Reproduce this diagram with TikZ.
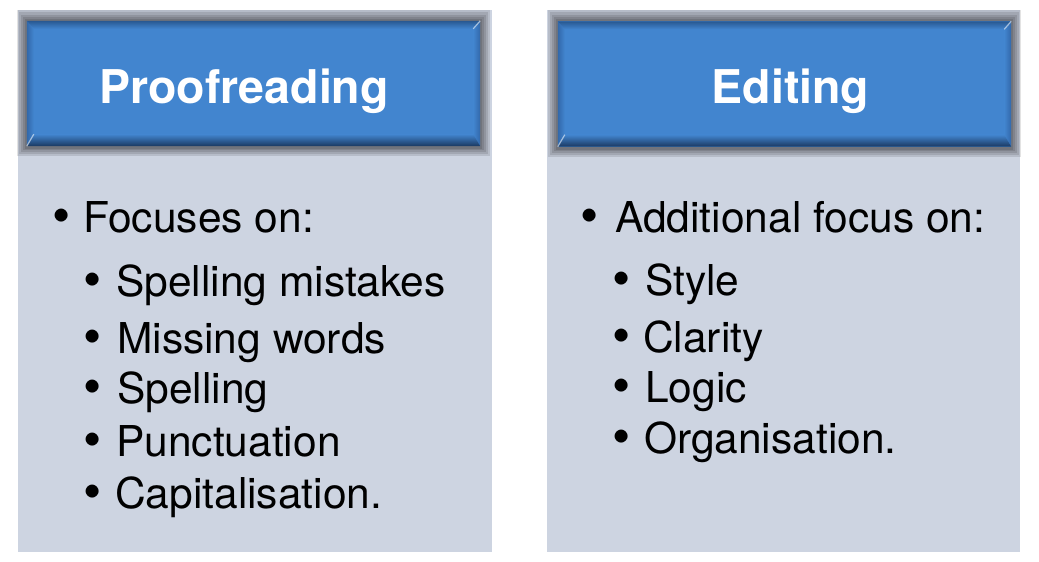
\documentclass[tikz,border=0pt]{standalone}
\usepackage{fontspec}
\setmainfont{TeX Gyre Heros}
\usetikzlibrary{calc}
\definecolor{panelgray}{RGB}{205,212,225}
\definecolor{headblue}{RGB}{66,133,207}
\definecolor{bevtop}{RGB}{40,88,145}
\definecolor{bevbot}{RGB}{26,56,96}
\definecolor{bevside}{RGB}{50,104,170}

\begin{document}
\begin{tikzpicture}[
    x=1pt, y=-1pt,
    panel/.style={rectangle, fill=panelgray, minimum width=474pt, minimum height=542pt, inner sep=0pt},
    headbox/.style={rectangle, minimum width=453pt, minimum height=125pt, inner sep=0pt},
    glow/.style={fill=black, fill opacity=0.11},
    shine/.style={white, opacity=0.55, line width=1.2pt},
    headtext/.style={font=\fontsize{46.5}{54}\selectfont\bfseries, text=white, inner sep=0pt, anchor=base},
    itemtext/.style={font=\fontsize{42.5}{50}\selectfont, inner sep=0pt, anchor=base west},
    bulletmark/.style={font=\fontsize{52}{60}\selectfont, inner sep=0pt, anchor=base}
]
    \fill[white] (0,0) rectangle (1039,562);
    \useasboundingbox (0,0) rectangle (1039,562);

    % Panels
    \node (proofpanel) [panel] at (255,281) {};
    \node (editpanel) [panel, minimum width=473pt] at (783.5,281) {};

    % Header boxes
    \node (proofbox) [headbox] at (253.5,83.5) {};
    \node (editbox) [headbox] at (784.5,84) {};

    % Shadows
    \fill[glow] ($(proofbox.north west)+(-10,-11)$) rectangle ($(proofbox.south east)+(10,10)$);
    \fill[glow] ($(proofbox.north west)+(-8,-9)$) rectangle ($(proofbox.south east)+(8,8)$);
    \fill[glow] ($(proofbox.north west)+(-6,-6)$) rectangle ($(proofbox.south east)+(6,6)$);
    \fill[glow] ($(proofbox.north west)+(-4,-4)$) rectangle ($(proofbox.south east)+(4,4)$);
    \fill[glow] ($(proofbox.north west)+(-2,-2)$) rectangle ($(proofbox.south east)+(2,3)$);
    \fill[glow] ($(editbox.north west)+(-10,-11)$) rectangle ($(editbox.south east)+(10,10)$);
    \fill[glow] ($(editbox.north west)+(-8,-9)$) rectangle ($(editbox.south east)+(8,8)$);
    \fill[glow] ($(editbox.north west)+(-6,-6)$) rectangle ($(editbox.south east)+(6,6)$);
    \fill[glow] ($(editbox.north west)+(-4,-4)$) rectangle ($(editbox.south east)+(4,4)$);
    \fill[glow] ($(editbox.north west)+(-2,-2)$) rectangle ($(editbox.south east)+(2,3)$);

    % Bevelled blue faces
    \fill[headblue] (proofbox.north west) rectangle (proofbox.south east);
    \shade[left color=bevside, right color=headblue] (proofbox.north west) -- ($(proofbox.north west)+(7,8)$) -- ($(proofbox.south west)+(7,-12)$) -- (proofbox.south west) -- cycle;
    \shade[left color=headblue, right color=bevside] (proofbox.north east) -- ($(proofbox.north east)+(-7,8)$) -- ($(proofbox.south east)+(-7,-12)$) -- (proofbox.south east) -- cycle;
    \shade[top color=bevtop, bottom color=headblue] (proofbox.north west) -- (proofbox.north east) -- ($(proofbox.north east)+(-7,8)$) -- ($(proofbox.north west)+(7,8)$) -- cycle;
    \shade[top color=headblue, bottom color=bevbot] (proofbox.south west) -- (proofbox.south east) -- ($(proofbox.south east)+(-7,-12)$) -- ($(proofbox.south west)+(7,-12)$) -- cycle;
    \draw[shine] (proofbox.south west) -- ($(proofbox.south west)+(7,-12)$);
    \draw[shine] (proofbox.north east) -- ($(proofbox.north east)+(-7,8)$);

    \fill[headblue] (editbox.north west) rectangle (editbox.south east);
    \shade[left color=bevside, right color=headblue] (editbox.north west) -- ($(editbox.north west)+(7,8)$) -- ($(editbox.south west)+(7,-12)$) -- (editbox.south west) -- cycle;
    \shade[left color=headblue, right color=bevside] (editbox.north east) -- ($(editbox.north east)+(-7,8)$) -- ($(editbox.south east)+(-7,-12)$) -- (editbox.south east) -- cycle;
    \shade[top color=bevtop, bottom color=headblue] (editbox.north west) -- (editbox.north east) -- ($(editbox.north east)+(-7,8)$) -- ($(editbox.north west)+(7,8)$) -- cycle;
    \shade[top color=headblue, bottom color=bevbot] (editbox.south west) -- (editbox.south east) -- ($(editbox.south east)+(-7,-12)$) -- ($(editbox.south west)+(7,-12)$) -- cycle;
    \draw[shine] (editbox.south west) -- ($(editbox.south west)+(7,-12)$);
    \draw[shine] (editbox.north east) -- ($(editbox.north east)+(-7,8)$);

    % Titles
    \node (prooftitle) [headtext] at (244,103) {Proofreading};
    \node (edittitle) [headtext] at (790.5,103) {Editing};

    % Proofreading items
    \node (pb0) [bulletmark] at (62,233) {\textbullet};
    \node (pi0) [itemtext] at (83,232) {Focuses on:};
    \node (pb1) [bulletmark] at (93,297) {\textbullet};
    \node (pi1) [itemtext] at (116,296) {Spelling mistakes};
    \node (pb2) [bulletmark] at (93,354) {\textbullet};
    \node (pi2) [itemtext] at (117,353) {Missing words};
    \node (pb3) [bulletmark] at (93,404) {\textbullet};
    \node (pi3) [itemtext] at (117,403) {Spelling};
    \node (pb4) [bulletmark] at (93,457) {\textbullet};
    \node (pi4) [itemtext] at (116,456) {Punctuation};
    \node (pb5) [bulletmark] at (93,509) {\textbullet};
    \node (pi5) [itemtext] at (115,508) {Capitalisation.};

    % Editing items
    \node (eb0) [bulletmark] at (590,233) {\textbullet};
    \node (ei0) [itemtext] at (615,232) {Additional focus on:};
    \node (eb1) [bulletmark] at (622,296) {\textbullet};
    \node (ei1) [itemtext] at (645,295) {Style};
    \node (eb2) [bulletmark] at (622,353) {\textbullet};
    \node (ei2) [itemtext] at (643,352) {Clarity};
    \node (eb3) [bulletmark] at (622,403) {\textbullet};
    \node (ei3) [itemtext] at (645,402) {Logic};
    \node (eb4) [bulletmark] at (622,454) {\textbullet};
    \node (ei4) [itemtext] at (644,453) {Organisation.};
\end{tikzpicture}
\end{document}
